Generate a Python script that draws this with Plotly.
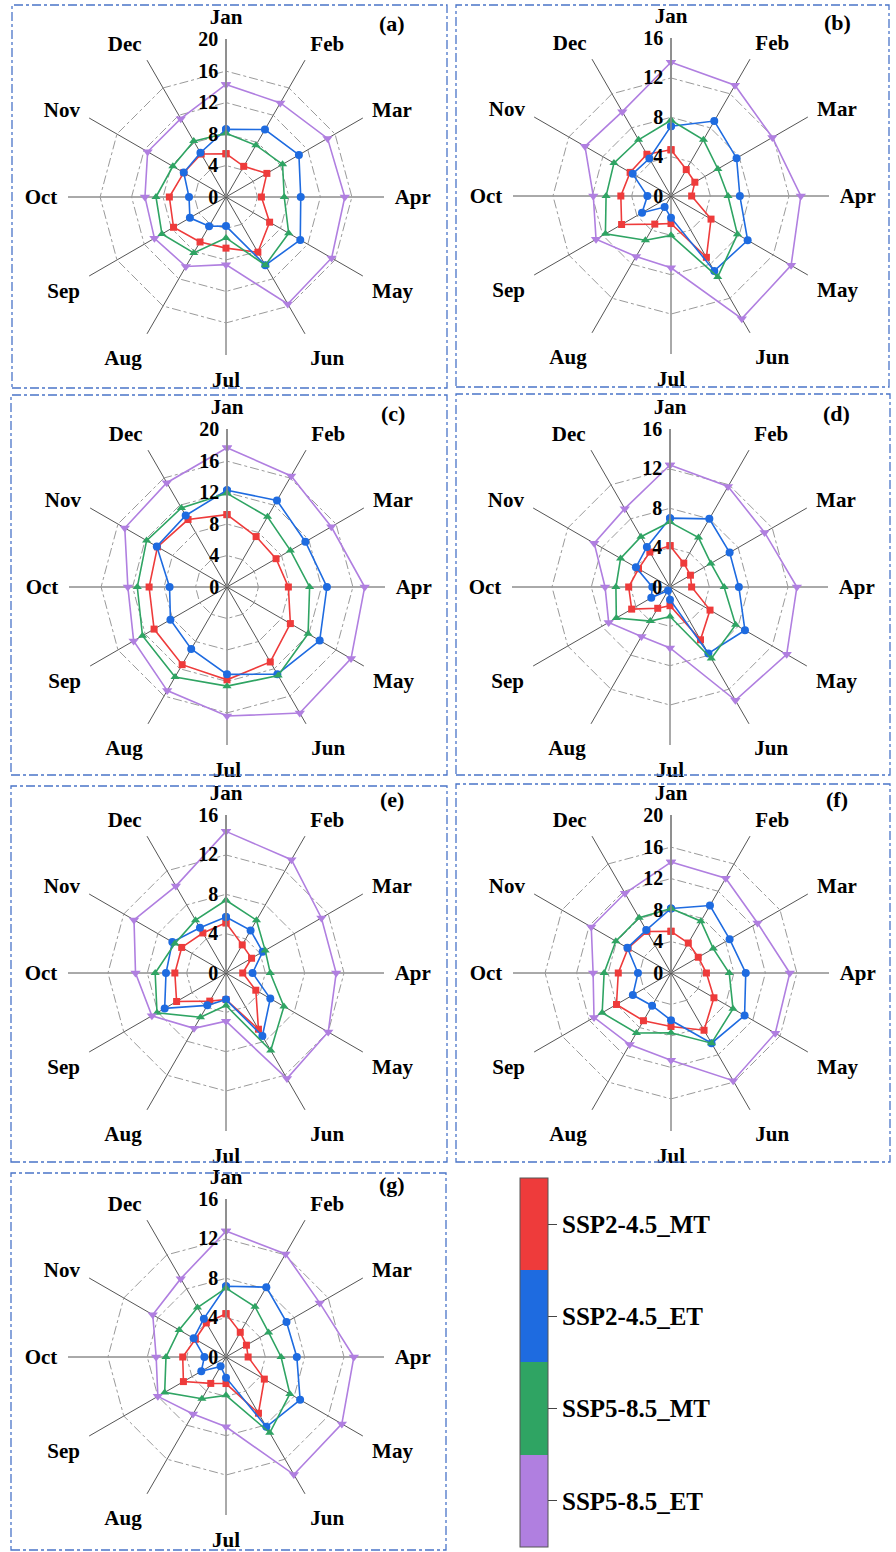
import plotly.graph_objects as go

# ---------------- data ----------------
months = ["Jan", "Feb", "Mar", "Apr", "May", "Jun", "Jul", "Aug", "Sep", "Oct", "Nov", "Dec"]
series_names = ["SSP2-4.5_MT", "SSP2-4.5_ET", "SSP5-8.5_MT", "SSP5-8.5_ET"]
panel_labels = ["(a)", "(b)", "(c)", "(d)", "(e)", "(f)", "(g)"]
radial_max = [20, 16, 20, 16, 16, 20, 16]

a_mt245 = [5.5, 4.5, 6.0, 4.5, 6.4, 8.1, 6.5, 6.6, 7.7, 7.2, 6.2, 6.3]
a_et245 = [8.6, 9.9, 10.7, 9.5, 10.9, 10.0, 3.7, 4.3, 5.3, 4.7, 6.2, 6.5]
a_mt585 = [8.1, 7.6, 8.3, 7.4, 9.2, 10.0, 5.2, 8.2, 9.4, 8.9, 7.8, 8.2]
a_et585 = [14.3, 13.8, 14.9, 15.1, 15.5, 15.7, 8.6, 10.2, 10.5, 10.3, 11.5, 11.5]

b_mt245 = [4.7, 3.1, 2.8, 2.1, 4.7, 7.2, 2.8, 3.3, 5.8, 5.1, 4.8, 4.9]
b_et245 = [7.1, 8.8, 7.7, 7.0, 9.0, 8.8, 2.2, 1.3, 3.4, 2.4, 4.5, 4.4]
b_mt585 = [7.7, 6.6, 5.5, 5.8, 7.8, 9.5, 4.0, 5.2, 7.7, 6.6, 6.7, 6.6]
b_et585 = [13.6, 13.0, 11.9, 13.2, 14.1, 14.4, 7.3, 7.1, 8.8, 7.9, 10.1, 9.9]

c_mt245 = [9.2, 7.4, 7.2, 7.8, 9.3, 11.0, 11.8, 11.4, 10.7, 9.9, 10.2, 9.9]
c_et245 = [12.3, 12.7, 11.5, 12.7, 13.6, 12.8, 11.1, 9.1, 8.3, 7.3, 10.3, 10.5]
c_mt585 = [11.9, 10.3, 9.3, 10.5, 11.9, 13.0, 12.6, 13.2, 12.4, 11.4, 11.8, 11.6]
c_et585 = [17.7, 16.3, 15.3, 17.5, 18.2, 18.5, 16.4, 15.2, 13.7, 12.6, 15.0, 15.3]

d_mt245 = [4.2, 2.8, 2.4, 2.2, 4.7, 6.2, 1.9, 2.5, 4.5, 4.2, 3.7, 4.1]
d_et245 = [7.0, 8.0, 7.0, 7.0, 8.8, 7.8, 1.3, 0.4, 2.2, 1.8, 4.0, 4.7]
d_mt585 = [6.6, 5.8, 4.8, 5.5, 7.7, 8.4, 3.0, 4.0, 6.3, 5.5, 5.8, 5.9]
d_et585 = [12.4, 11.8, 11.1, 12.9, 13.7, 13.3, 6.2, 5.8, 7.2, 6.6, 8.9, 9.2]

e_mt245 = [5.1, 3.3, 3.0, 1.7, 3.5, 6.6, 2.7, 3.3, 5.8, 5.2, 5.2, 4.7]
e_et245 = [5.7, 5.0, 4.3, 2.7, 5.2, 7.4, 2.7, 3.8, 7.2, 6.1, 6.3, 5.3]
e_mt585 = [7.4, 6.2, 4.6, 4.5, 6.8, 9.1, 3.3, 5.2, 8.1, 7.2, 6.0, 6.2]
e_et585 = [14.4, 13.3, 11.2, 11.2, 12.0, 12.4, 4.9, 6.5, 8.7, 9.2, 10.8, 10.2]

f_mt245 = [5.3, 4.4, 4.0, 4.5, 6.3, 8.4, 6.8, 7.0, 8.0, 6.7, 6.3, 6.1]
f_et245 = [8.2, 9.9, 8.6, 9.5, 10.8, 10.3, 6.0, 4.8, 5.6, 4.2, 6.4, 6.3]
f_mt585 = [8.2, 7.6, 6.2, 7.4, 9.1, 10.3, 7.6, 8.8, 10.1, 8.5, 8.1, 8.1]
f_et585 = [14.1, 13.9, 12.7, 15.1, 15.3, 15.8, 11.1, 10.5, 11.3, 9.9, 11.7, 11.7]

g_mt245 = [4.4, 2.9, 2.4, 2.25, 4.5, 6.6, 2.7, 3.1, 5.0, 4.4, 3.6, 4.0]
g_et245 = [7.2, 8.2, 7.1, 7.2, 8.7, 8.2, 2.1, 1.1, 2.9, 2.2, 3.8, 4.5]
g_mt585 = [7.0, 5.9, 5.0, 5.6, 7.5, 8.9, 3.9, 4.9, 7.2, 6.1, 5.5, 5.8]
g_et585 = [12.8, 12.1, 11.0, 13.0, 13.6, 13.8, 7.1, 6.7, 8.0, 7.1, 8.6, 9.2]

panels = [
    [a_mt245, a_et245, a_mt585, a_et585],
    [b_mt245, b_et245, b_mt585, b_et585],
    [c_mt245, c_et245, c_mt585, c_et585],
    [d_mt245, d_et245, d_mt585, d_et585],
    [e_mt245, e_et245, e_mt585, e_et585],
    [f_mt245, f_et245, f_mt585, f_et585],
    [g_mt245, g_et245, g_mt585, g_et585],
]

# ---------------- styles / layout ----------------
W, H = 896, 1552
FONT = "Liberation Serif"
colors = ["#EE3B3B", "#1E6BE0", "#2FA463", "#B07FE0"]
symbols = ["square", "circle", "triangle-up", "triangle-down"]
msizes = [7, 8, 8, 9]

centers = [(226, 197), (671, 196), (227, 587), (670, 587), (226, 973), (671, 973), (226, 1357)]
R = 158
boxes = [(12, 5, 447, 388), (456, 5, 889, 387), (11, 395, 447, 775), (456, 394, 890, 775),
         (11, 786, 447, 1162), (456, 784, 890, 1162), (11, 1173, 446, 1550)]

fig = go.Figure()
layout_updates = {}
annotations = []
shapes = []

for i, (series, label, rmax) in enumerate(zip(panels, panel_labels, radial_max)):
    pname = "polar" if i == 0 else f"polar{i + 1}"
    for s, (vals, name) in enumerate(zip(series, series_names)):
        fig.add_trace(go.Scatterpolar(
            r=vals + [vals[0]], theta=months + [months[0]],
            mode="lines+markers", name=name, showlegend=False,
            line=dict(color=colors[s], width=1.6),
            marker=dict(symbol=symbols[s], size=msizes[s], color=colors[s]),
            subplot=pname,
        ))
    cx, cy = centers[i]
    layout_updates[pname] = dict(
        domain=dict(x=[(cx - R) / W, (cx + R) / W], y=[1 - (cy + R) / H, 1 - (cy - R) / H]),
        bgcolor="white",
        gridshape="linear",
        radialaxis=dict(
            range=[0, rmax * 1.004], tickvals=list(range(0, rmax + 1, 4)),
            angle=90, side="counterclockwise", tickangle=90,
            showline=True, linecolor="#8a8a8a", linewidth=1.6,
            ticks="", showgrid=True, gridcolor="#9a9a9a", gridwidth=0.9, griddash="dashdot",
            tickfont=dict(family=FONT, size=20, color="black", weight="bold"),
        ),
        angularaxis=dict(
            categoryorder="array", categoryarray=months,
            direction="clockwise", rotation=90,
            showline=False, showgrid=True, gridcolor="#555555", gridwidth=1.1,
            ticks="outside", ticklen=6, tickcolor="rgba(0,0,0,0)",
            tickfont=dict(family=FONT, size=21, color="black", weight="bold"),
        ),
    )
    annotations.append(dict(
        x=(cx + 166) / W, y=1 - (cy - 173) / H, xref="paper", yref="paper",
        xanchor="center", yanchor="middle",
        text=label, showarrow=False,
        font=dict(family=FONT, size=22, color="black", weight="bold"),
    ))
    x0, y0, x1, y1 = boxes[i]
    shapes.append(dict(type="rect", xref="paper", yref="paper",
                       x0=x0 / W, x1=x1 / W, y0=1 - y1 / H, y1=1 - y0 / H,
                       line=dict(color="#4a74c8", width=1.3, dash="dashdot")))

# legend as a discrete colour bar
legend_scale = [[0.0, colors[3]], [0.25, colors[3]], [0.25, colors[2]], [0.5, colors[2]],
                [0.5, colors[1]], [0.75, colors[1]], [0.75, colors[0]], [1.0, colors[0]]]
fig.add_trace(go.Scatterpolar(
    r=[None], theta=[None], mode="markers", showlegend=False, subplot="polar7",
    marker=dict(color=[0], cmin=0, cmax=4, colorscale=legend_scale, showscale=True,
                colorbar=dict(
                    x=520 / W, xanchor="left", y=1 - 1362.5 / H, yanchor="middle",
                    len=369, lenmode="pixels", thickness=28, thicknessmode="pixels",
                    xpad=0, ypad=0, outlinecolor="#555555", outlinewidth=1,
                    tickvals=[3.5, 2.5, 1.5, 0.5], ticktext=series_names,
                    ticks="outside", ticklen=9, tickcolor="#444444",
                    tickfont=dict(family=FONT, size=25, color="black", weight="bold"),
                )),
))

fig.update_layout(
    width=W, height=H, autosize=False,
    margin=dict(l=0, r=0, t=0, b=0),
    paper_bgcolor="white", plot_bgcolor="white",
    annotations=annotations, shapes=shapes,
    **layout_updates,
)

fig.write_html("out.html")
